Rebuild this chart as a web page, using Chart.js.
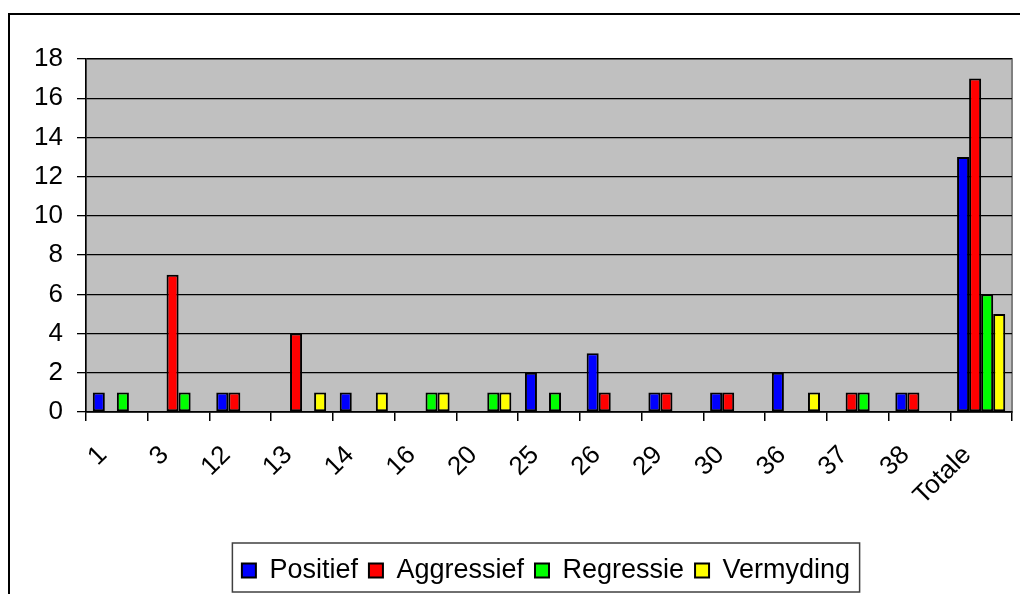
<!DOCTYPE html>
<html>
<head>
<meta charset="utf-8">
<script src="https://cdn.jsdelivr.net/npm/chart.js@4.4.1/dist/chart.umd.min.js"></script>
<style>
  html, body { margin: 0; padding: 0; background: #fff; }
  #wrap { width: 1020px; height: 594px; position: relative; }
</style>
</head>
<body>
<div id="wrap"><canvas id="chart" width="1020" height="594"></canvas></div>
<script>
// categories and series
const categories = ['1', '3', '12', '13', '14', '16', '20', '25', '26', '29', '30', '36', '37', '38', 'Totale'];
const positief   = [1, 0, 1, 0, 1, 0, 0, 2, 3, 1, 1, 2, 0, 1, 13];
const aggressief = [0, 7, 1, 4, 0, 0, 0, 0, 1, 1, 1, 0, 1, 1, 17];
const regressie  = [1, 1, 0, 0, 0, 1, 1, 1, 0, 0, 0, 0, 1, 0, 6];
const vermyding  = [0, 0, 0, 1, 1, 1, 1, 0, 0, 0, 0, 1, 0, 0, 5];
const seriesNames = ['Positief', 'Aggressief', 'Regressie', 'Vermyding'];
const seriesColors = ['#0000FF', '#FF0000', '#00FF00', '#FFFF00'];

const FONT = 'Liberation Sans, Arial, sans-serif';

function makeDataset(i, values) {
    return {
        label: seriesNames[i],
        data: values,
        backgroundColor: seriesColors[i],
        borderColor: '#000000',
        borderWidth: 2,
        borderSkipped: false,
        barPercentage: 1.0,
        categoryPercentage: 0.78
    };
}

// gray plot area, frame and legend box
const excelLook = {
    id: 'excelLook',
    beforeDraw(chart) {
        const ctx = chart.ctx;
        const a = chart.chartArea;
        ctx.save();
        ctx.fillStyle = '#C0C0C0';
        ctx.fillRect(a.left, a.top, a.right - a.left, a.bottom - a.top);
        ctx.strokeStyle = '#808080';
        ctx.lineWidth = 2;
        ctx.strokeRect(a.left, a.top, a.right - a.left, a.bottom - a.top);
        // outer chart frame
        ctx.strokeStyle = '#000000';
        ctx.lineWidth = 2;
        ctx.beginPath();
        ctx.moveTo(9, chart.height);
        ctx.lineTo(9, 14);
        ctx.lineTo(chart.width, 14);
        ctx.stroke();
        ctx.restore();
    },
    afterUpdate(chart) {
        const lg = chart.legend;
        lg.left += 34;
        lg.right += 34;
    },
    afterDraw(chart) {
        const lg = chart.legend;
        const w = lg.lineWidths[0];
        const x0 = (lg.left + lg.right) / 2 - w / 2;
        const ctx = chart.ctx;
        ctx.save();
        ctx.strokeStyle = '#404040';
        ctx.lineWidth = 1.5;
        ctx.strokeRect(x0 - 4, lg.top - 3, w + 8, lg.height + 1);
        ctx.restore();
    }
};

new Chart(document.getElementById('chart').getContext('2d'), {
    type: 'bar',
    data: {
        labels: categories,
        datasets: [
            makeDataset(0, positief),
            makeDataset(1, aggressief),
            makeDataset(2, regressie),
            makeDataset(3, vermyding)
        ]
    },
    options: {
        responsive: false,
        animation: false,
        layout: { padding: { left: 12, right: 8, top: 59, bottom: 0 } },
        scales: {
            x: {
                grid: {
                    offset: true,
                    drawOnChartArea: false,
                    drawTicks: true,
                    tickLength: 9,
                    tickColor: '#000000',
                    lineWidth: 1.5
                },
                border: { color: '#000000', width: 1.5 },
                ticks: {
                    color: '#000000',
                    font: { family: FONT, size: 26 },
                    minRotation: 45,
                    maxRotation: 45,
                    padding: 19,
                    labelOffset: -14
                },
                afterFit(scale) {
                    scale.height = 134;
                    scale.paddingLeft = 0;
                    scale.paddingRight = 0;
                }
            },
            y: {
                min: 0,
                max: 18,
                ticks: {
                    stepSize: 2,
                    color: '#000000',
                    font: { family: FONT, size: 26 },
                    padding: 14
                },
                grid: {
                    color: '#000000',
                    lineWidth: 1.3,
                    tickLength: 9,
                    tickColor: '#000000'
                },
                border: { color: '#000000', width: 1.5 },
                afterFit(scale) { scale.width = 74; }
            }
        },
        plugins: {
            legend: {
                position: 'bottom',
                labels: {
                    color: '#000000',
                    font: { family: FONT, size: 27 },
                    boxWidth: 14,
                    boxHeight: 14,
                    padding: 11
                }
            },
            tooltip: { enabled: false }
        }
    },
    plugins: [excelLook]
});
</script>
</body>
</html>
